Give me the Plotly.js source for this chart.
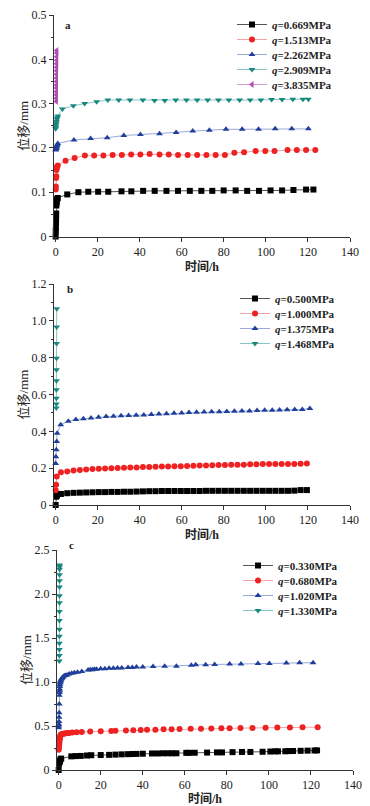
<!DOCTYPE html>
<html>
<head>
<meta charset="utf-8">
<script src="https://cdn.plot.ly/plotly-3.0.1.min.js"></script>
<style>html,body{margin:0;padding:0;background:#fff;}#chart{width:370px;height:806px;}</style>
</head>
<body>
<div id="chart"></div>
<script>
// ---------- Panel a ----------
const aNames = ['<i>q</i>=0.669MPa','<i>q</i>=1.513MPa','<i>q</i>=2.262MPa','<i>q</i>=2.909MPa','<i>q</i>=3.835MPa'];
const a1_t = [0,0.05,0.1,0.15,0.2,0.25,0.3,0.35,0.4,0.5,0.7,1.0,5.5,10.8,15.5,20.2,25,31.3,36,41.6,47.1,52.7,58.2,63.8,69.3,74.5,79.9,85.6,91.1,96.7,102.2,107.7,113.1,119.1,122.6];
const a1_v = [0,0.012,0.02,0.03,0.04,0.052,0.07,0.075,0.078,0.082,0.085,0.087,0.095,0.100,0.101,0.101,0.101,0.102,0.102,0.103,0.103,0.103,0.103,0.103,0.103,0.103,0.104,0.104,0.103,0.103,0.104,0.104,0.105,0.106,0.106];
const a2_t = [0,0.1,0.2,0.3,0.4,0.5,0.7,1.0,4.7,9,13.9,18.3,22.7,27.1,31.5,35.9,40.3,44.7,49.4,53.8,58.2,62.8,67.3,71.7,76.1,80.5,85,89.6,95.1,99.7,104.1,110.3,114.7,119.1,123.5];
const a2_v = [0.106,0.113,0.132,0.136,0.15,0.155,0.158,0.16,0.171,0.177,0.183,0.183,0.183,0.184,0.184,0.185,0.185,0.186,0.185,0.185,0.184,0.184,0.184,0.184,0.184,0.184,0.189,0.190,0.193,0.193,0.193,0.195,0.195,0.195,0.195];
const a3_t = [0,0.1,0.2,0.3,0.4,0.6,0.8,1.0,8.7,16.6,24.5,32.4,40.3,49.4,57.3,65.2,73.1,81,88.7,96.5,104.4,112.3,120.2];
const a3_v = [0.195,0.197,0.199,0.2,0.202,0.205,0.207,0.21,0.218,0.221,0.223,0.228,0.230,0.232,0.235,0.238,0.240,0.242,0.242,0.242,0.243,0.243,0.243];
const a4_t = [0,0.1,0.2,0.3,0.4,0.6,0.8,1.0,3.2,8.4,13.8,19.5,24.8,30,35.3,41.5,47,51.9,57.1,62.2,67.3,72.3,77.4,82.4,87.5,92.5,97.6,102.7,107.7,112.8,117.6,120.2];
const a4_v = [0.243,0.247,0.252,0.256,0.26,0.265,0.268,0.272,0.288,0.295,0.300,0.304,0.308,0.308,0.308,0.308,0.307,0.307,0.308,0.308,0.308,0.308,0.308,0.308,0.308,0.308,0.308,0.309,0.309,0.310,0.310,0.310];
const a5_t = [0.3,0.3,0.32,0.33,0.35,0.36,0.38,0.4,0.4,0.42,0.44,0.45,0.46,0.48,0.5,0.5];
const a5_v = [0.305,0.312,0.32,0.327,0.335,0.342,0.35,0.358,0.366,0.374,0.382,0.39,0.398,0.406,0.414,0.42];
const aTickVals = [0,0.1,0.2,0.3,0.4,0.5];
const aTickText = ['0','0.1','0.2','0.3','0.4','0.5'];

// ---------- Panel b ----------
const bNames = ['<i>q</i>=0.500MPa','<i>q</i>=1.000MPa','<i>q</i>=1.375MPa','<i>q</i>=1.468MPa'];
const b1_t = [0,0.2,0.4,0.6,2.5,5.5,8.5,11.5,14.5,17.5,20.5,23.5,26.5,29.5,32.5,35.5,38.5,41.5,44.5,47.5,50.5,53.5,56.5,59.5,62.5,65.5,68.5,71.5,74.5,77.5,80.5,83.5,86.5,89.5,92.5,95.5,98.5,101.5,104.5,107.5,110.5,113.5,116.5,119.5];
const b1_v = [0,0.045,0.05,0.053,0.060,0.064,0.066,0.067,0.068,0.069,0.070,0.070,0.071,0.071,0.072,0.072,0.073,0.074,0.075,0.075,0.076,0.076,0.076,0.076,0.076,0.076,0.076,0.077,0.077,0.077,0.077,0.077,0.077,0.077,0.077,0.077,0.077,0.077,0.077,0.077,0.077,0.078,0.081,0.081];
const b2_t = [0,0.2,0.5,2.5,5.5,8.5,11.5,14.5,17.5,20.5,23.5,26.5,29.5,32.5,35.5,38.5,41.5,44.5,47.5,50.5,53.5,56.5,59.5,62.5,65.5,68.5,71.5,74.5,77.5,80.5,83.5,86.5,89.5,92.5,95.5,98.5,101.5,104.5,107.5,110.5,113.5,116.5,119.5];
const b2_v = [0.08,0.11,0.155,0.178,0.182,0.187,0.19,0.193,0.195,0.197,0.198,0.200,0.201,0.202,0.203,0.204,0.206,0.207,0.208,0.209,0.209,0.210,0.211,0.212,0.213,0.214,0.215,0.216,0.217,0.217,0.218,0.218,0.219,0.221,0.221,0.222,0.222,0.222,0.222,0.223,0.223,0.224,0.225];
const b3_t = [0,0.1,0.3,0.5,0.7,2.4,6.0,9.6,13.2,16.8,20.4,24.0,27.5,31.1,34.7,38.3,41.9,45.5,49.1,52.7,56.3,59.9,63.4,67.0,70.6,74.2,77.8,81.4,85.0,88.6,92.2,95.8,99.4,103.0,106.5,110.1,113.7,117.3,120.9];
const b3_v = [0.225,0.262,0.3,0.345,0.39,0.436,0.455,0.464,0.468,0.473,0.477,0.481,0.482,0.484,0.486,0.487,0.489,0.491,0.494,0.496,0.498,0.500,0.502,0.503,0.505,0.507,0.507,0.508,0.509,0.510,0.511,0.513,0.514,0.515,0.516,0.517,0.518,0.519,0.524];
const b4_t = [0.3,0.32,0.34,0.36,0.38,0.4,0.42,0.44,0.46,0.5];
const b4_v = [0.527,0.549,0.58,0.626,0.675,0.734,0.797,0.877,0.967,1.066];
const bTickVals = [0,0.2,0.4,0.6,0.8,1.0,1.2];
const bTickText = ['0','0.2','0.4','0.6','0.8','1.0','1.2'];

// ---------- Panel c ----------
const cNames = ['<i>q</i>=0.330MPa','<i>q</i>=0.680MPa','<i>q</i>=1.020MPa','<i>q</i>=1.330MPa'];
const c1_t = [0,0.2,0.4,0.6,0.8,1.2,6,8,10.5,13.5,15.5,20,24,27,30,33,35,37,40,44.4,47.1,49.6,51.8,53.9,56,60.7,62,64.7,70.6,75.3,77.7,82.7,87.2,91.2,97,100.7,103,104.3,107.8,109.4,111.5,115.1,118.4,121.7,122.9];
const c1_v = [0,0.07,0.09,0.1,0.12,0.13,0.155,0.158,0.16,0.165,0.168,0.17,0.172,0.175,0.178,0.18,0.182,0.183,0.185,0.188,0.188,0.19,0.19,0.19,0.19,0.195,0.195,0.196,0.198,0.2,0.2,0.203,0.205,0.205,0.207,0.21,0.212,0.212,0.213,0.215,0.216,0.218,0.22,0.222,0.223];
const c2_t = [0,0.1,0.2,0.3,0.4,0.5,0.6,0.7,0.8,1.0,1.3,1.7,2.2,2.8,3.5,4.2,5,6.5,8.5,11,15,20,25,27,32,35.5,39,42,46,49.9,53.7,57.5,62.8,67.7,72.6,77.4,81.3,86.5,92.2,98.4,104,110,116,123.2];
const c2_v = [0.23,0.25,0.28,0.3,0.33,0.35,0.37,0.38,0.39,0.4,0.405,0.41,0.412,0.415,0.418,0.42,0.42,0.425,0.428,0.432,0.437,0.44,0.443,0.445,0.45,0.452,0.455,0.456,0.458,0.462,0.464,0.466,0.468,0.47,0.472,0.474,0.475,0.476,0.478,0.48,0.482,0.483,0.485,0.487];
const c3_t = [0,0.05,0.1,0.15,0.2,0.25,0.3,0.35,0.4,0.45,0.5,0.55,0.6,0.7,0.8,0.9,1.0,1.2,1.5,1.8,2.2,2.7,3.3,4,5,6.2,7.5,9,11,14,15,16,17,18,20,22,24,26,28,30,33,35,37,40,44.9,50.4,56,63.1,65.2,69.9,74.2,81.3,86.7,94.8,100.2,108.3,114.6,121];
const c3_v = [0.48,0.5,0.52,0.55,0.6,0.65,0.75,0.85,0.88,0.9,0.92,0.95,0.97,0.99,1.0,1.01,1.02,1.03,1.04,1.05,1.06,1.07,1.075,1.08,1.09,1.1,1.105,1.11,1.12,1.135,1.14,1.14,1.145,1.145,1.15,1.15,1.155,1.155,1.16,1.16,1.165,1.165,1.17,1.17,1.175,1.178,1.18,1.19,1.195,1.197,1.198,1.205,1.205,1.21,1.21,1.215,1.218,1.22];
const c4_t = [0.3,0.31,0.32,0.33,0.34,0.35,0.36,0.37,0.38,0.39,0.4,0.41,0.42,0.43,0.44,0.45];
const c4_v = [1.24,1.3,1.37,1.44,1.52,1.6,1.7,1.8,1.9,1.98,2.08,2.15,2.22,2.28,2.31,2.33];
const cTickVals = [0,0.5,1.0,1.5,2.0,2.5];
const cTickText = ['0','0.5','1.0','1.5','2.0','2.5'];

const xTickVals = [0,20,40,60,80,100,120,140];

// ---------- styles ----------
const styles = [
  {line:'#555555', marker:'#000000', symbol:'square'},
  {line:'#f4a3a3', marker:'#ee2222', symbol:'circle'},
  {line:'#9aa8dc', marker:'#1f3f9a', symbol:'triangle-up'},
  {line:'#86c9c4', marker:'#17877f', symbol:'triangle-down'},
  {line:'#d39ad6', marker:'#b04cb4', symbol:'triangle-left'}
];

const W = 370, H = 806;
const serif = 'Liberation Serif, "Noto Sans CJK SC", serif';

// one legend box per entry so rows can be spaced like the original (15 px)
const layout = {
  width: W, height: H,
  margin: {l: 0, r: 0, t: 0, b: 0},
  paper_bgcolor: '#ffffff', plot_bgcolor: '#ffffff',
  showlegend: true
};
let legIdx = 0;
function legKey(){ legIdx++; return legIdx === 1 ? 'legend' : 'legend' + legIdx; }
function addLegend(key, xpx, ycpx){
  layout[key] = {x: xpx/W, y: 1 - (ycpx - 12)/H, xanchor: 'left', yanchor: 'top',
    bgcolor: 'rgba(0,0,0,0)', borderwidth: 0, itemwidth: 30,
    font: {family: serif, size: 11, color: '#222', weight: 'bold'}};
}

function mk(t, v, name, si, ax, legX, legY){
  const s = styles[si];
  const key = legKey();
  addLegend(key, legX, legY);
  return {
    x: t, y: v, name: name, type: 'scatter', mode: 'lines+markers',
    xaxis: 'x' + ax, yaxis: 'y' + ax, legend: key, cliponaxis: false,
    line: {color: s.line, width: 1},
    marker: {color: s.marker, symbol: s.symbol, size: 6}
  };
}

const data = [
  mk(a1_t,a1_v,aNames[0],0,'',232,22),
  mk(a2_t,a2_v,aNames[1],1,'',232,37),
  mk(a3_t,a3_v,aNames[2],2,'',232,52),
  mk(a4_t,a4_v,aNames[3],3,'',232,67),
  mk(a5_t,a5_v,aNames[4],4,'',232,82),
  mk(b1_t,b1_v,bNames[0],0,'2',235,296),
  mk(b2_t,b2_v,bNames[1],1,'2',235,311),
  mk(b3_t,b3_v,bNames[2],2,'2',235,326),
  mk(b4_t,b4_v,bNames[3],3,'2',235,341),
  mk(c1_t,c1_v,cNames[0],0,'3',238,563),
  mk(c2_t,c2_v,cNames[1],1,'3',238,578),
  mk(c3_t,c3_v,cNames[2],2,'3',238,593),
  mk(c4_t,c4_v,cNames[3],3,'3',238,608)
];

const tickFont = {family: serif, size: 12, color: '#222'};
const xTitleFont = {family: serif, size: 12, color: '#222', weight: 'bold'};
const yTitleFont = {family: serif, size: 13, color: '#222'};

function xax(d0, d1, anchor){
  return {
    domain: [d0/W, d1/W], anchor: anchor, range: [-0.8, 140],
    tickvals: xTickVals, ticks: 'outside', ticklen: 4, tickcolor: '#333',
    showline: true, linecolor: '#333', linewidth: 1, showgrid: false, zeroline: false,
    tickfont: tickFont, automargin: false,
    title: {text: '时间/h', font: xTitleFont, standoff: 4}
  };
}
function yax(top, bot, anchor, range, tv, tt, minorD){
  return {
    domain: [1 - bot/H, 1 - top/H], anchor: anchor, range: range,
    tickvals: tv, ticktext: tt, ticks: 'outside', ticklen: 4, tickcolor: '#333',
    minor: {dtick: minorD, ticks: 'outside', ticklen: 2, tickcolor: '#333'},
    showline: true, linecolor: '#333', linewidth: 1, showgrid: false, zeroline: false,
    tickfont: tickFont, automargin: false,
    title: {text: '位移/mm', font: yTitleFont, standoff: 0}
  };
}

layout.xaxis = xax(54, 350, 'y');
layout.yaxis = yax(15, 236.5, 'x', [0, 0.5], aTickVals, aTickText, 0.05);
layout.xaxis2 = xax(54, 350, 'y2');
layout.yaxis2 = yax(284, 505, 'x2', [0, 1.2], bTickVals, bTickText, 0.1);
layout.xaxis3 = xax(57, 353, 'y3');
layout.yaxis3 = yax(550, 770, 'x3', [0, 2.5], cTickVals, cTickText, 0.25);
layout.annotations = [
  {text: 'a', xref: 'paper', yref: 'paper', x: 63/W, y: 1 - 17/H, showarrow: false, font: {family: serif, size: 11, weight: 'bold', color: '#222'}},
  {text: 'b', xref: 'paper', yref: 'paper', x: 65/W, y: 1 - 289/H, showarrow: false, font: {family: serif, size: 11, weight: 'bold', color: '#222'}},
  {text: 'c', xref: 'paper', yref: 'paper', x: 67/W, y: 1 - 553/H, showarrow: false, font: {family: serif, size: 11, weight: 'bold', color: '#222'}}
];

Plotly.newPlot('chart', data, layout, {displayModeBar: false, staticPlot: true});
</script>
</body>
</html>
